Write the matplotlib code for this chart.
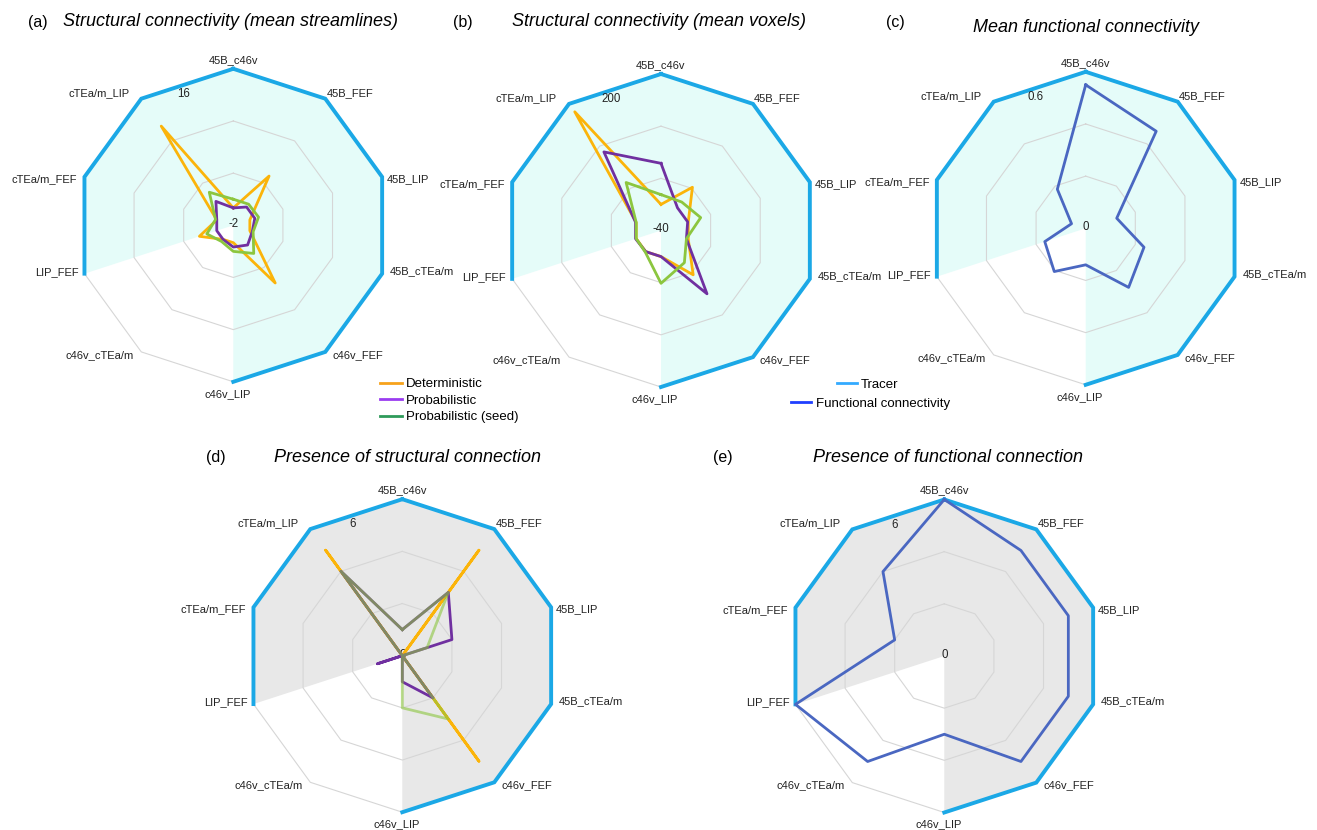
import numpy as np
import matplotlib
matplotlib.use('Agg')
import matplotlib.pyplot as plt
from matplotlib.lines import Line2D

plt.rcParams['font.family'] = ['Liberation Sans', 'DejaVu Sans']

# connection names, clockwise from the top
labels = ['45B_c46v', '45B_FEF', '45B_LIP', '45B_cTEa/m', 'c46v_FEF',
          'c46v_LIP', 'c46v_cTEa/m', 'LIP_FEF', 'cTEa/m_FEF', 'cTEa/m_LIP']

# tracer: connection present (1) or absent (0)
tracer = [1, 1, 1, 1, 1, 1, 0, 1, 1, 1]

# (a) mean streamlines
stream_det = [0, 5.0, 0, 0, 6.2, 0, 0, 2.1, 0, 12.1]
stream_prob = [0, 0.6, 0.6, 0.3, 0.8, 0.5, 0, 0, 0, 1.4]
stream_seed = [1.0, 1.0, 1.05, 0.4, 2.0, 1.0, 0.3, 1.2, 0.15, 2.7]

# (b) mean voxels
vox_det = [0, 42, 4, 4, 44, 0, 0, 0, 0, 185]
vox_prob = [63, 3, 3, 1, 80, 0, 0, 1, 1, 109]
vox_seed = [15, 14, 24, 1, 21, 41, 1, 0, 0, 51]

# (c) mean functional connectivity
fc_mean = [0.55, 0.46, 0.125, 0.235, 0.28, 0.14, 0.205, 0.165, 0.057, 0.185]

# (d) presence of structural connection (count)
pres_det = [0, 5, 0, 0, 5, 0, 0, 0, 0, 5]
pres_prob = [1, 3, 2, 0, 2, 1, 0, 1, 0, 4]
pres_seed = [1, 3, 1, 0, 3, 2, 0, 0, 0, 4]

# (e) presence of functional connection (count)
pres_fc = [6, 5, 5, 5, 5, 3, 5, 6, 2, 4]

C_DET = '#fbb40a'
C_PROB = '#7030a0'
C_SEED = '#8cc63f'
C_FC = '#4a67c1'
C_TRACER = '#1ba8e6'
C_GRID = '#d6d6d6'

W, H = 1317, 830
R = 156.5
fig = plt.figure(figsize=(W / 100, H / 100), dpi=100)
theta = np.linspace(0, 2 * np.pi, len(labels), endpoint=False)
th = np.append(theta, theta[0])

# label offsets (pixels) and alignment per spoke
lab_off = [(0, 9, 'center'), (1, 6, 'left'), (5, -2, 'left'), (8, 3, 'left'),
           (7, -3, 'left'), (-6, -12, 'center'), (-8, -3, 'right'),
           (-6, 2, 'right'), (-7, -2, 'right'), (-12, 6, 'right')]


def closed(v):
    v = list(v)
    return np.array(v + v[:1], dtype=float)


def radar(cx, cy, rmin, rmax, lo_txt, hi_txt, fill, series):
    ax = fig.add_axes([(cx - R) / W, (H - cy - R) / H, 2 * R / W, 2 * R / H],
                      projection='polar')
    ax.set_theta_offset(np.pi / 2)
    ax.set_theta_direction(-1)
    ax.set_ylim(rmin, rmax)
    ax.set_xticks([])
    ax.set_yticks([])
    ax.grid(False)
    ax.spines['polar'].set_visible(False)
    ax.set_facecolor('none')

    for k in (1, 2, 3):
        r = rmin + (rmax - rmin) * k / 3
        ax.plot(th, [r] * len(th), color=C_GRID, lw=0.8, zorder=1, clip_on=False)

    tv = [rmax if t else rmin for t in tracer]
    ax.fill(th, closed(tv), color=fill, lw=0, zorder=0)
    tl = [rmax if t else np.nan for t in tracer]
    ax.plot(th, closed(tl), color=C_TRACER, lw=2.8, zorder=3, clip_on=False,
            solid_joinstyle='miter')

    for vals, col, alpha in series:
        ax.plot(th, closed(vals), color=col, lw=2.0, alpha=alpha, zorder=4,
                clip_on=False)

    for i, name in enumerate(labels):
        dx, dy, ha = lab_off[i]
        ax.annotate(name, xy=(theta[i], rmax), xytext=(dx, dy),
                    textcoords='offset pixels', ha=ha, va='center',
                    fontsize=8, color='#222222', annotation_clip=False)
    ax.annotate(lo_txt, xy=(0, rmin), xytext=(0, 1), textcoords='offset pixels',
                ha='center', va='center', fontsize=8.3, color='#222222')
    ax.annotate(hi_txt, xy=(0, rmax), xytext=(-50, -25), textcoords='offset pixels',
                ha='center', va='center', fontsize=8.3, color='#222222',
                annotation_clip=False)
    return ax


CYAN = '#e5fcf9'
GRAY = '#e8e8e8'

radar(233.3, 225.3, -2, 16, '-2', '16', CYAN,
      [(stream_det, C_DET, 1), (stream_prob, C_PROB, 1), (stream_seed, C_SEED, 1)])
radar(661, 230.5, -40, 200, '-40', '200', CYAN,
      [(vox_det, C_DET, 1), (vox_prob, C_PROB, 1), (vox_seed, C_SEED, 1)])
radar(1085.7, 228.3, 0, 0.6, '0', '0.6', CYAN, [(fc_mean, C_FC, 1)])
radar(402.3, 655.7, 0, 6, '0', '6', GRAY,
      [(pres_det, C_DET, 1), (pres_prob, C_PROB, 1), (pres_seed, C_SEED, 0.6)])
radar(944.3, 656, 0, 6, '0', '6', GRAY, [(pres_fc, C_FC, 1)])


def title(xl, xt, y, tag, text):
    fig.text(xl / W, 1 - y / H, tag, fontsize=11.5, ha='left', va='center')
    fig.text(xt / W, 1 - y / H, text, fontsize=13, style='italic',
             ha='left', va='center')


title(28, 63, 22, '(a)', 'Structural connectivity (mean streamlines)')
title(453, 512, 22, '(b)', 'Structural connectivity (mean voxels)')
fig.text(886 / W, 1 - 23 / H, '(c)', fontsize=11.5, ha='left', va='center')
fig.text(973 / W, 1 - 27 / H, 'Mean functional connectivity', fontsize=13,
         style='italic', ha='left', va='center')
title(206, 274, 457, '(d)', 'Presence of structural connection')
title(713, 813, 457, '(e)', 'Presence of functional connection')

# legends
h1 = [Line2D([], [], color='#f7a21b', lw=2),
      Line2D([], [], color='#9a3cf0', lw=2),
      Line2D([], [], color='#2e9a5a', lw=2)]
fig.legend(h1, ['Deterministic', 'Probabilistic', 'Probabilistic (seed)'],
           loc='upper left', bbox_to_anchor=(380 / W, 1 - 378 / H),
           frameon=False, fontsize=9.5, handlelength=1.65, handletextpad=0.33,
           labelspacing=0.33, borderpad=0, borderaxespad=0)
fig.legend([Line2D([], [], color='#33aaff', lw=2)], ['Tracer'],
           loc='center', bbox_to_anchor=(868 / W, 1 - 385 / H),
           frameon=False, fontsize=9.5, handlelength=1.5, handletextpad=0.3,
           borderpad=0, borderaxespad=0)
fig.legend([Line2D([], [], color='#1f3fff', lw=2)], ['Functional connectivity'],
           loc='center', bbox_to_anchor=(871 / W, 1 - 404 / H),
           frameon=False, fontsize=9.5, handlelength=1.5, handletextpad=0.4,
           borderpad=0, borderaxespad=0)

fig.savefig('out.png', dpi=100)
